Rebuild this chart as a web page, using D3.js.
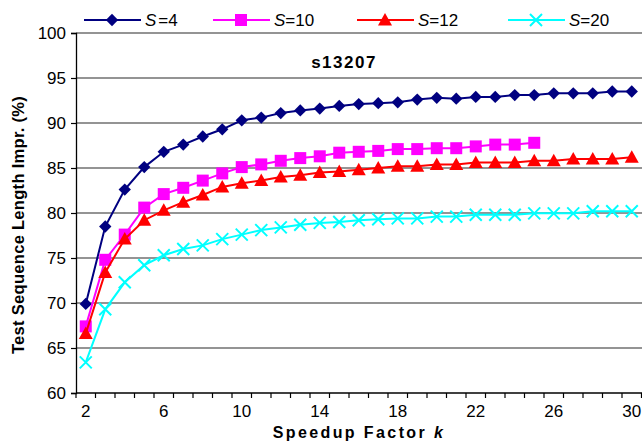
<!DOCTYPE html>
<html>
<head>
<meta charset="utf-8">
<title>s13207 speedup</title>
<style type="text/css">
	body {margin: 0px; background: white;}
	text {font-family: "Liberation Sans", Arial, sans-serif;}
</style>
</head>
<body>
<svg id="svg" width="642" height="441"></svg>
<script src="https://d3js.org/d3.v7.min.js" charset="utf-8"></script>
<script>
	// speedup factor k, one category per value
	var kValues = d3.range(2, 31);
	var xTickLabels = [2, 6, 10, 14, 18, 22, 26, 30];
	var yTicks = [60, 65, 70, 75, 80, 85, 90, 95, 100];

	var s4 = [69.9, 78.5, 82.6, 85.1, 86.8, 87.6, 88.5, 89.3, 90.3, 90.6, 91.1, 91.4, 91.6, 91.9,
	          92.1, 92.2, 92.3, 92.6, 92.8, 92.7, 92.9, 92.9, 93.1, 93.1, 93.3, 93.3, 93.3, 93.5, 93.5];
	var s10 = [67.4, 74.8, 77.6, 80.6, 82.1, 82.8, 83.6, 84.4, 85.1, 85.4, 85.8, 86.1, 86.3, 86.7,
	           86.8, 86.9, 87.1, 87.1, 87.2, 87.2, 87.4, 87.6, 87.6, 87.8];
	var s12 = [66.6, 73.4, 77.1, 79.2, 80.3, 81.2, 82.0, 82.9, 83.3, 83.6, 84.0, 84.2, 84.5, 84.6,
	           84.8, 85.0, 85.2, 85.2, 85.4, 85.4, 85.6, 85.6, 85.6, 85.8, 85.8, 86.0, 86.0, 86.0, 86.2];
	var s20 = [63.4, 69.3, 72.3, 74.2, 75.3, 76.0, 76.4, 77.1, 77.6, 78.1, 78.4, 78.7, 78.9, 79.0,
	           79.2, 79.3, 79.4, 79.4, 79.6, 79.6, 79.8, 79.8, 79.8, 79.96, 79.96, 79.96, 80.2, 80.2, 80.2];

	var series = [
		{label: "4", values: s4, color: "#000080", marker: "diamond", lx: 84, gap: 2},
		{label: "10", values: s10, color: "#ff00ff", marker: "square", lx: 213, gap: 0},
		{label: "12", values: s12, color: "#ff0000", marker: "triangle", lx: 357, gap: 0},
		{label: "20", values: s20, color: "#00ffff", marker: "cross", lx: 508, gap: 0}
	];

	var margin = {top: 33, left: 76, bottom: 48};
	var plotRight = 76 + 29 * 19.5;
	var plotBottom = 393;

	var svg = d3.select("#svg");

	var x = d3.scaleBand().domain(kValues).range([margin.left, plotRight]);
	var y = d3.scaleLinear().domain([60, 100]).range([plotBottom, margin.top]);

	function cx(k) { return x(k) + x.bandwidth() / 2; }

	// horizontal grid lines
	svg.append("g").selectAll("line")
		.data(yTicks.slice(1))
		.enter().append("line")
		.attr("x1", margin.left).attr("x2", 642)
		.attr("y1", function(d){ return y(d); })
		.attr("y2", function(d){ return y(d); })
		.attr("stroke", "#2a2a2a")
		.attr("stroke-width", 1.2);

	// y axis
	var yAxis = d3.axisLeft(y).tickValues(yTicks).tickSize(5).tickPadding(5);
	var gy = svg.append("g").attr("transform", "translate(" + margin.left + ",0)").call(yAxis);
	gy.select(".domain").attr("stroke", "#000").attr("stroke-width", 1.3);
	gy.selectAll(".tick line").attr("stroke", "#000").attr("stroke-width", 1.2);
	gy.selectAll("text").attr("font-size", 17).attr("fill", "#000")
		.attr("font-family", "Liberation Sans, Arial, sans-serif");

	// x axis: ticks at category edges, labels every 4th category
	var gx = svg.append("g");
	gx.append("line")
		.attr("x1", margin.left).attr("x2", 642)
		.attr("y1", plotBottom).attr("y2", plotBottom)
		.attr("stroke", "#000").attr("stroke-width", 1.3);
	gx.selectAll(".xt")
		.data(kValues.concat([31]))
		.enter().append("line")
		.attr("class", "xt")
		.attr("x1", function(d){ return d == 31 ? plotRight : x(d); })
		.attr("x2", function(d){ return d == 31 ? plotRight : x(d); })
		.attr("y1", plotBottom).attr("y2", plotBottom + 5)
		.attr("stroke", "#000").attr("stroke-width", 1.2);
	gx.selectAll(".xl")
		.data(xTickLabels)
		.enter().append("text")
		.attr("class", "xl")
		.attr("x", function(d){ return cx(d); })
		.attr("y", plotBottom + 24)
		.attr("text-anchor", "middle")
		.attr("font-size", 17)
		.text(function(d){ return d; });

	// axis titles
	var xt = svg.append("text")
		.attr("x", 359).attr("y", 438)
		.attr("text-anchor", "middle")
		.attr("font-size", 16).attr("font-weight", "bold")
		.attr("letter-spacing", 2.4);
	xt.append("tspan").text("Speedup Factor ");
	xt.append("tspan").attr("font-style", "italic").text("k");

	svg.append("text")
		.attr("transform", "translate(24," + (y(80) + 12) + ") rotate(-90)")
		.attr("text-anchor", "middle")
		.attr("font-size", 16.5).attr("font-weight", "bold")
		.attr("letter-spacing", 0.3)
		.text("Test Sequence Length Impr. (%)");

	svg.append("text")
		.attr("x", 344).attr("y", 68)
		.attr("text-anchor", "middle")
		.attr("font-size", 17).attr("font-weight", "bold")
		.attr("letter-spacing", 1.5)
		.text("s13207");

	function drawMarker(g, type, color) {
		if (type == "diamond") {
			g.append("path").attr("d", d3.symbol().type(d3.symbolSquare).size(76)())
				.attr("transform", "rotate(45)").attr("fill", color);
		} else if (type == "square") {
			g.append("rect").attr("x", -6).attr("y", -6).attr("width", 12).attr("height", 12)
				.attr("fill", color);
		} else if (type == "triangle") {
			g.append("path").attr("d", "M0,-7L7,5.5L-7,5.5Z").attr("fill", color);
		} else {
			g.append("path").attr("d", "M-6,-6L6,6M-6,6L6,-6")
				.attr("stroke", color).attr("stroke-width", 2).attr("fill", "none");
		}
	}

	var line = d3.line()
		.x(function(d, i){ return cx(kValues[i]); })
		.y(function(d){ return y(d); });

	series.forEach(function(s) {
		var g = svg.append("g");
		g.append("path")
			.attr("d", line(s.values))
			.attr("fill", "none")
			.attr("stroke", s.color)
			.attr("stroke-width", 2);
		s.values.forEach(function(v, i) {
			var m = g.append("g").attr("transform", "translate(" + cx(kValues[i]) + "," + y(v) + ")");
			drawMarker(m, s.marker, s.color);
		});

		// legend entry
		var ly = 20;
		var lg = svg.append("g");
		lg.append("line")
			.attr("x1", s.lx).attr("x2", s.lx + 57)
			.attr("y1", ly).attr("y2", ly)
			.attr("stroke", s.color).attr("stroke-width", 2);
		var lm = lg.append("g").attr("transform", "translate(" + (s.lx + 28) + "," + ly + ")");
		drawMarker(lm, s.marker, s.color);
		var lt = lg.append("text")
			.attr("x", s.lx + 61).attr("y", ly + 6)
			.attr("font-size", 17);
		lt.append("tspan").attr("font-style", "italic").text("S");
		lt.append("tspan").attr("dx", s.gap).text("=" + s.label);
	});
</script>
</body>
</html>
